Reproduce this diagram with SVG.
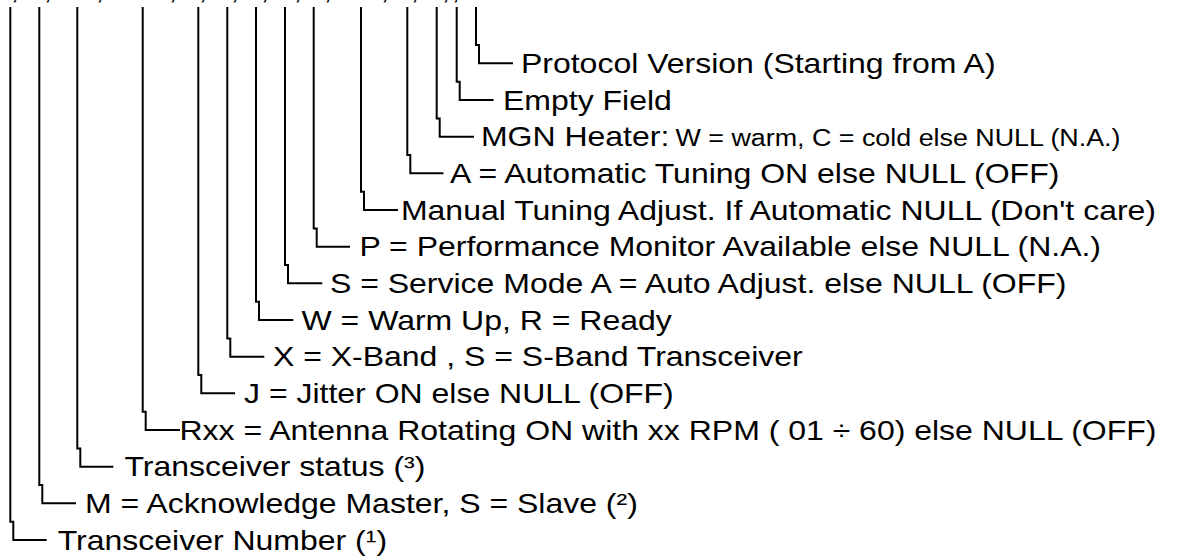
<svg xmlns="http://www.w3.org/2000/svg" width="1185" height="556" viewBox="0 0 1185 556">
<style>
.bg{fill:#ffffff}
.ln{fill:none;stroke:#000;stroke-width:2;stroke-linejoin:miter}
.t{font-family:"Liberation Sans",Arial,sans-serif;font-size:28px;fill:#000}
.s{font-size:23.5px}
.cm{font-family:"Liberation Sans",Arial,sans-serif;font-size:28px;fill:#000;text-anchor:middle}
</style>
<rect class="bg" x="0" y="0" width="1185" height="556"/>
<g id="clipped-top">
<text class="cm" y="-1"><tspan x="15">,</tspan><tspan x="48">,</tspan><tspan x="100">,</tspan><tspan x="173">,</tspan><tspan x="203">,</tspan><tspan x="235">,</tspan><tspan x="265">,</tspan><tspan x="298">,</tspan><tspan x="328">,</tspan><tspan x="385">,</tspan><tspan x="415">,</tspan><tspan x="446">,</tspan><tspan x="456">,</tspan></text>
</g>
<g id="connectors">
<path class="ln" d="M476 7V45H479V63.3H513"/>
<path class="ln" d="M456.7 7V81.7H459.7V100H493.5"/>
<path class="ln" d="M436.7 7V118.4H439.7V136.7H474"/>
<path class="ln" d="M407.3 7V155H410.3V173.3H443.5"/>
<path class="ln" d="M361 7V191.7H364V210H398"/>
<path class="ln" d="M313.7 7V228.4H316.7V246.7H350"/>
<path class="ln" d="M285 7V265H288V283.3H322.3"/>
<path class="ln" d="M256 7V301.7H259V320H293.3"/>
<path class="ln" d="M227.3 7V338.4H230.3V356.7H264.3"/>
<path class="ln" d="M198.3 7V375H201.3V393.3H235"/>
<path class="ln" d="M142.7 7V411.7H145.7V430H180"/>
<path class="ln" d="M77.3 7V448.4H80.3V466.7H113.3"/>
<path class="ln" d="M39.3 7V485H42.3V503.3H76"/>
<path class="ln" d="M10.3 7V521.7H13.3V540H46.7"/>
</g>
<g transform="scale(1.143 1)">
<g id="protocol-version"><text class="t" x="455.8" y="73">Protocol Version (Starting from A)</text></g>
<g id="empty-field"><text class="t" x="440.1" y="109.7">Empty Field</text></g>
<g id="mgn-heater"><text class="t" x="420.8" y="146.4">MGN Heater: <tspan class="s" x="591">W = warm, C = cold else NULL (N.A.)</tspan></text></g>
<g id="automatic-tuning"><text class="t" x="393.7" y="183">A = Automatic Tuning ON else NULL (OFF)</text></g>
<g id="manual-tuning"><text class="t" x="350.8" y="219.7">Manual Tuning Adjust. If Automatic NULL (Don't care)</text></g>
<g id="performance-monitor"><text class="t" x="314.5" y="256.4">P = Performance Monitor Available else NULL (N.A.)</text></g>
<g id="service-mode"><text class="t" x="288.7" y="293">S = Service Mode A = Auto Adjust. else NULL (OFF)</text></g>
<g id="warm-up"><text class="t" x="263.8" y="329.7">W = Warm Up, R = Ready</text></g>
<g id="band"><text class="t" x="238.8" y="366.4">X = X-Band , S = S-Band Transceiver</text></g>
<g id="jitter"><text class="t" x="213.5" y="403">J = Jitter ON else NULL (OFF)</text></g>
<g id="antenna"><text class="t" x="157" y="439.7">Rxx = Antenna Rotating ON with xx RPM ( 01 ÷ 60) else NULL (OFF)</text></g>
<g id="transceiver-status"><text class="t" x="108.9" y="476.4">Transceiver status (³)</text></g>
<g id="acknowledge"><text class="t" x="74.4" y="513">M = Acknowledge Master, S = Slave (²)</text></g>
<g id="transceiver-number"><text class="t" x="50.5" y="549.7">Transceiver Number (¹)</text></g>
</g>
</svg>
